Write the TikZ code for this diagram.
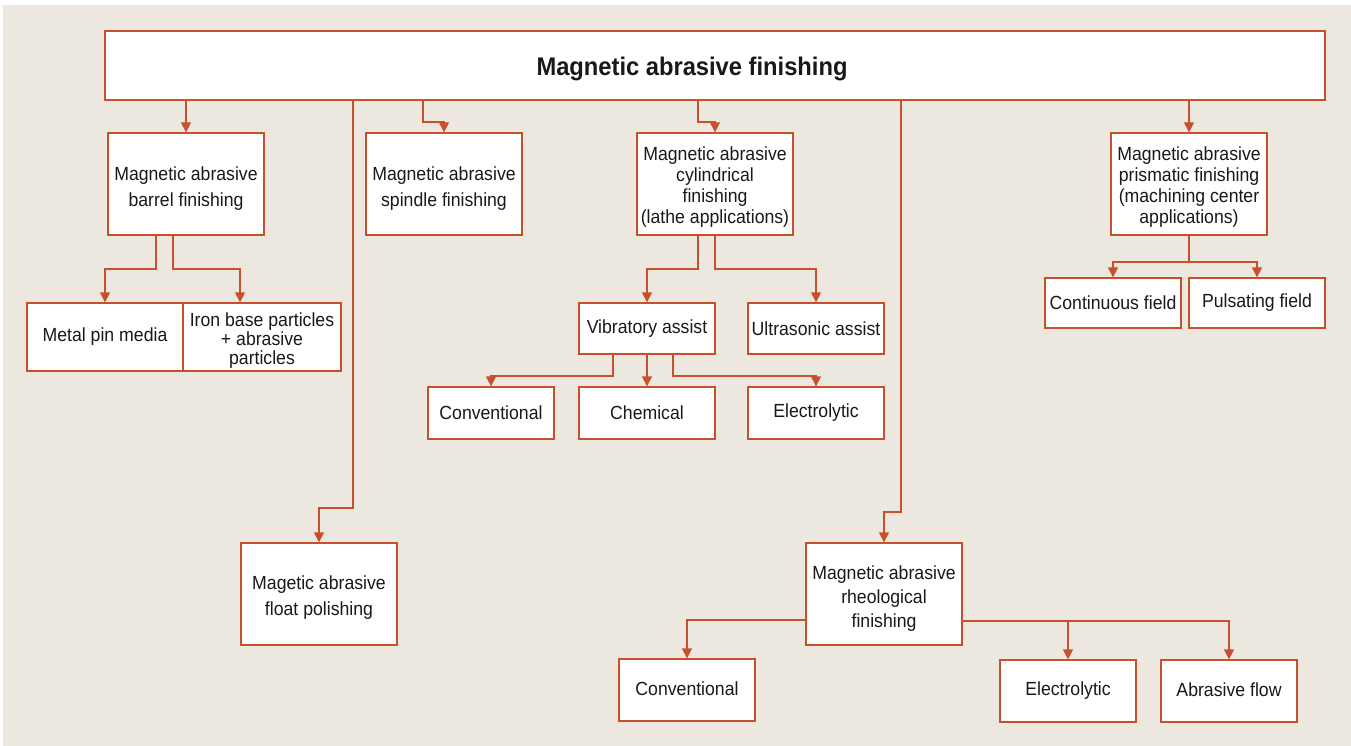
\documentclass[tikz,border=0pt]{standalone}
\usepackage{fontspec}
\setmainfont{Liberation Sans}[FakeStretch=0.93]
\usetikzlibrary{arrows.meta}
\definecolor{bgcol}{RGB}{236,232,223}
\definecolor{linecol}{RGB}{200,80,45}
\definecolor{txtcol}{RGB}{25,25,25}
\newcommand{\lowr}[1]{\rule{0pt}{#1}}
\tikzset{
  box/.style={draw=linecol, fill=white, line width=1.3pt, inner sep=0pt, align=center, text=txtcol,
    font=\fontsize{19}{26}\selectfont},
  tight/.style={font=\fontsize{19}{21}\selectfont},
  arr/.style={draw=linecol, line width=1.3pt, -{Triangle[width=10pt,length=10pt]}},
}
\begin{document}
\begin{tikzpicture}[x=1pt,y=-1pt]
\useasboundingbox (0,0) rectangle (1351,746);
\fill[bgcol] (3,5) rectangle (1351,746);

% level 0
\node[box, minimum width=1220pt, minimum height=69pt, font=\fontsize{25.5}{30}\selectfont\bfseries] (title) at (715,65.5) {\hspace*{-46pt}\raisebox{-3pt}[\height][\depth]{Magnetic abrasive finishing}};

% level 1
\node[box, minimum width=156pt, minimum height=102pt] (barrel) at (186,184) {\lowr{22pt}Magnetic abrasive\\barrel finishing};
\node[box, minimum width=156pt, minimum height=102pt] (spindle) at (444,184) {\lowr{22pt}Magnetic abrasive\\spindle finishing};
\node[box, tight, minimum width=156pt, minimum height=102pt] (cyl) at (715,184) {\lowr{20pt}Magnetic abrasive\\cylindrical\\finishing\\(lathe applications)};
\node[box, tight, minimum width=156pt, minimum height=102pt] (prism) at (1189,184) {\lowr{20pt}Magnetic abrasive\\prismatic finishing\\(machining center\\applications)};

% barrel children
\node[box, minimum width=156pt, minimum height=68pt] (metal) at (105,337) {Metal pin media};
\node[box, minimum width=158pt, minimum height=68pt, font=\fontsize{19}{19}\selectfont] (iron) at (262,337) {\lowr{20pt}Iron base particles\\+ abrasive\\particles};

% cylindrical children
\node[box, minimum width=136pt, minimum height=51pt] (vib) at (647,328.5) {Vibratory assist};
\node[box, minimum width=136pt, minimum height=51pt] (ultra) at (816,328.5) {Ultrasonic assist};
\node[box, minimum width=126pt, minimum height=52pt] (conv1) at (491,413) {Conventional};
\node[box, minimum width=136pt, minimum height=52pt] (chem) at (647,413) {Chemical};
\node[box, minimum width=136pt, minimum height=52pt] (elec1) at (816,413) {Electrolytic};

% prismatic children
\node[box, minimum width=136pt, minimum height=50pt] (cont) at (1113,303) {Continuous field};
\node[box, minimum width=136pt, minimum height=50pt] (puls) at (1257,303) {\raisebox{2pt}{Pulsating field}};

% lower level
\node[box, minimum width=156pt, minimum height=102pt] (float) at (319,594) {\lowr{20pt}Magetic abrasive\\float polishing};
\node[box, minimum width=156pt, minimum height=102pt, font=\fontsize{19}{24}\selectfont] (rheo) at (884,594) {\lowr{22pt}Magnetic abrasive\\rheological\\finishing};
\node[box, minimum width=136pt, minimum height=62pt] (conv2) at (687,690) {\raisebox{2pt}{Conventional}};
\node[box, minimum width=136pt, minimum height=62pt] (elec2) at (1068,691) {Electrolytic};
\node[box, minimum width=136pt, minimum height=62pt] (abr) at (1229,691) {\raisebox{2pt}{Abrasive flow}};

% connectors from title
\draw[arr] (title.south -| barrel.north) -- (barrel.north);
\draw[arr] (title.south -| 423,0) |- (444,122) -- (spindle.north);
\draw[arr] (title.south -| 698,0) |- (715,122) -- (cyl.north);
\draw[arr] (title.south -| prism.north) -- (prism.north);
\draw[arr] (title.south -| 353,0) |- (319,508) -- (float.north);
\draw[arr] (title.south -| 901,0) |- (884,512) -- (rheo.north);

% barrel
\draw[arr] (barrel.south -| 156,0) |- (105,269) -- (metal.north);
\draw[arr] (barrel.south -| 173,0) |- (240,269) -- (iron.north -| 240,0);

% cylindrical
\draw[arr] (cyl.south -| 698,0) |- (647,269) -- (vib.north);
\draw[arr] (cyl.south -| 715,0) |- (816,269) -- (ultra.north);

% vibratory
\draw[arr] (vib.south -| 613,0) |- (491,376) -- (conv1.north);
\draw[arr] (vib.south) -- (chem.north);
\draw[arr] (vib.south -| 673,0) |- (816,376) -- (elec1.north);

% prismatic
\draw[arr] (prism.south) |- (1113,262) -- (cont.north);
\draw[arr] (prism.south) |- (1257,262) -- (puls.north);

% rheological
\draw[arr] (rheo.west |- 0,620) -| (conv2.north);
\draw[arr] (rheo.east |- 0,621) -| (elec2.north);
\draw[arr] (rheo.east |- 0,621) -| (abr.north);
\end{tikzpicture}
\end{document}
